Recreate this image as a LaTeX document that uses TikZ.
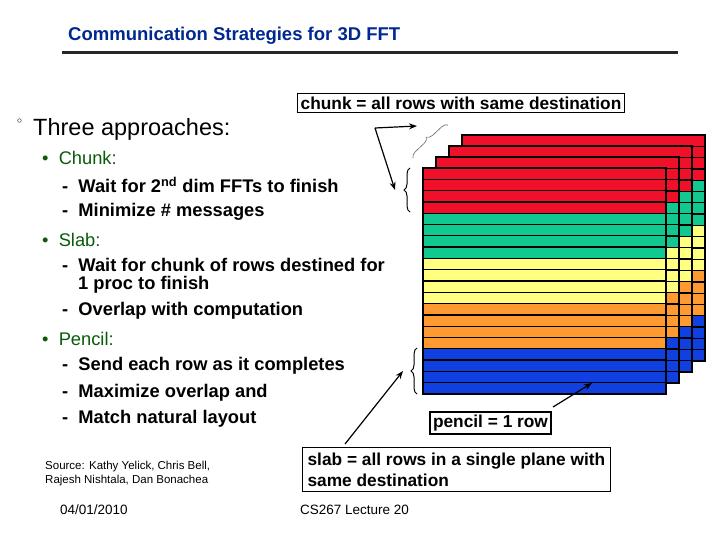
\documentclass[tikz,border=0pt]{standalone}
\usepackage{fontspec}
\setmainfont{Liberation Sans}
\usetikzlibrary{decorations.pathreplacing,arrows.meta}
\definecolor{cred}{HTML}{F0102A}
\definecolor{cgreen}{HTML}{10C890}
\definecolor{cyellow}{HTML}{FFFF80}
\definecolor{corange}{HTML}{FF9A30}
\definecolor{cblue}{HTML}{1040E0}
\definecolor{ctitle}{HTML}{002890}
\definecolor{cbul}{HTML}{0A5A0A}
\begin{document}
\begin{tikzpicture}[x=1pt,y=-1pt,
  txt/.style={anchor=west,inner sep=0pt,font=\fontsize{18.3}{20}\selectfont\bfseries},
  bul/.style={anchor=west,inner sep=0pt,font=\fontsize{18.3}{20}\selectfont,text=cbul},
  lbl/.style={draw,line width=1.2pt,fill=white,font=\fontsize{17.3}{21}\selectfont\bfseries,inner sep=3pt},
  arr/.style={-{Stealth[length=8pt,width=6pt]},line width=1.2pt},
  brc/.style={decorate,decoration={brace,amplitude=6pt},line width=1pt}]
\useasboundingbox (0,0) rectangle (720,540);
\node[anchor=west,inner sep=0pt,text=ctitle,font=\fontsize{18.5}{20}\selectfont\bfseries] (title) at (68,36) {Communication Strategies for 3D FFT};
\draw[line width=3pt,black!85] (62,53) -- (678,53);
% planes
\foreach \k in {3,2,1,0}{
  \foreach \c [count=\i from 0] in {cred,cred,cred,cred,cgreen,cgreen,cgreen,cgreen,cyellow,cyellow,cyellow,cyellow,corange,corange,corange,corange,cblue,cblue,cblue,cblue}{
    \draw[fill=\c,line width=1.3pt] (423+13*\k,168-11*\k+11.3*\i) rectangle ++(243,11.3);
  }
}
\node[lbl] (chunk) at (461,103) {chunk = all rows with same destination};
\node[anchor=west,inner sep=0pt] (circ) at (17,124) {\fontsize{14}{16}\selectfont$^\circ$};
\node[anchor=west,inner sep=0pt,font=\fontsize{23.5}{26}\selectfont] (three) at (33,129) {Three approaches:};
\node[bul] (b1) at (42,158) {\textbullet\ \ Chunk:};
\node[txt] (t1) at (62,185) {-\ \ Wait for 2\textsuperscript{nd} dim FFTs to finish};
\node[txt] (t2) at (62,212) {-\ \ Minimize \# messages};
\node[bul] (b2) at (42,240) {\textbullet\ \ Slab:};
\node[txt] (t3) at (62,265) {-\ \ Wait for chunk of rows destined for};
\node[txt] (t3b) at (78,285) {1 proc to finish};
\node[txt] (t4) at (62,311) {-\ \ Overlap with computation};
\node[bul] (b3) at (42,339) {\textbullet\ \ Pencil:};
\node[txt] (t5) at (62,366) {-\ \ Send each row as it completes};
\node[txt] (t6) at (62,393) {-\ \ Maximize overlap and};
\node[txt] (t7) at (62,419) {-\ \ Match natural layout};
\node[anchor=west,inner sep=0pt,align=left,font=\fontsize{11.5}{14}\selectfont] (src) at (45,474) {Source: Kathy Yelick, Chris Bell,\\Rajesh Nishtala, Dan Bonachea};
\node[anchor=west,inner sep=0pt,font=\fontsize{13.5}{15}\selectfont] (date) at (60,510) {04/01/2010};
\node[anchor=west,inner sep=0pt,font=\fontsize{13.5}{15}\selectfont] (lect) at (300,510) {CS267 Lecture 20};
\node[lbl] (pencil) at (490.5,423) {pencil = 1 row};
\node[lbl,align=left,anchor=north west,inner sep=5pt] (slab) at (302,447) {slab = all rows in a single plane with\\same destination};
% braces
\draw[brc] (410,212) -- (410,168);
\draw[brc] (417,394) -- (417,348);
\draw[decorate,decoration={brace,amplitude=6pt},line width=0.6pt,black!60] (413,158) -- (448,125);
\coordinate (cs) at (375,128);
\coordinate (ct1) at (417,126);
\coordinate (ct2) at (395,190);
\draw[arr] (cs) -- (ct1);
\draw[arr] (cs) -- (ct2);
\coordinate (ss) at (345,444);
\coordinate (st) at (403,371);
\draw[arr] (ss) -- (st);
\coordinate (ps) at (553,407);
\coordinate (pt) at (592,383);
\draw[arr] (ps) -- (pt);
\end{tikzpicture}
\end{document}
